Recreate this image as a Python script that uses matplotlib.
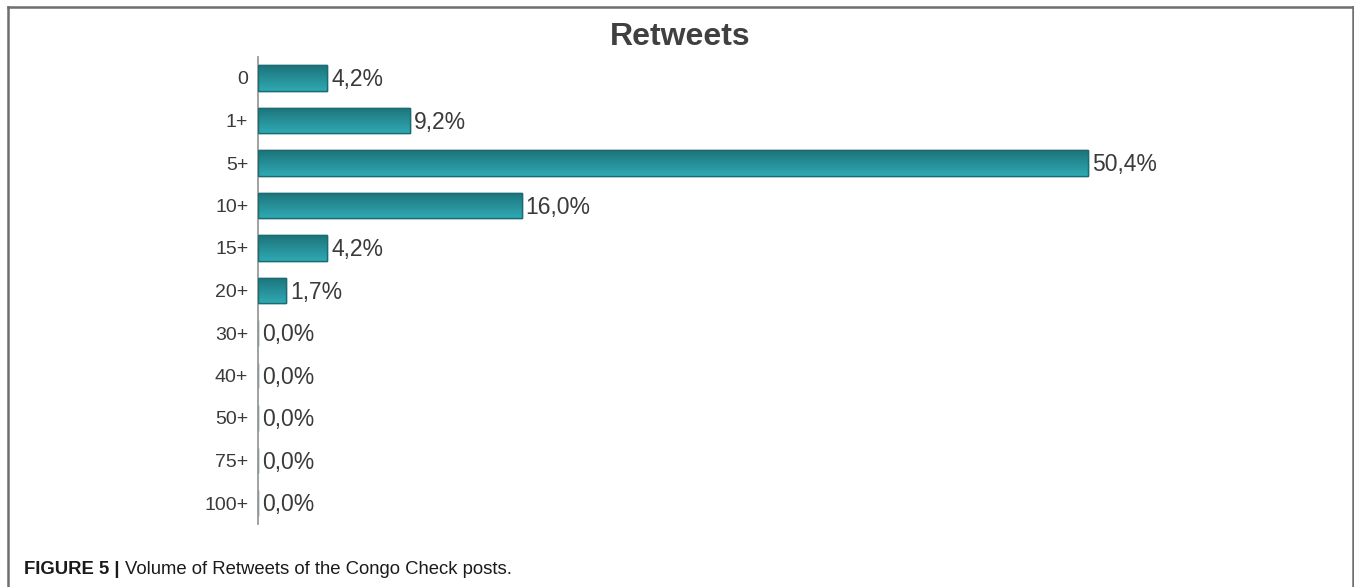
import numpy as np
import matplotlib
matplotlib.use("Agg")
import matplotlib.pyplot as plt
from matplotlib.colors import LinearSegmentedColormap
from matplotlib.lines import Line2D

# retweet buckets and share of posts (%)
categories = ["0", "1+", "5+", "10+", "15+", "20+", "30+", "40+", "50+", "75+", "100+"]
shares = [4.2, 9.2, 50.4, 16.0, 4.2, 1.7, 0.0, 0.0, 0.0, 0.0, 0.0]

plt.rcParams["font.family"] = ["Liberation Sans", "DejaVu Sans"]

W, H = 1354, 587
fig = plt.figure(figsize=(W / 100, H / 100), dpi=100)

# axes placed in pixel terms
left, right = 258, 1258
top, bottom = 56.75, 524.25
ax = fig.add_axes([left / W, 1 - bottom / H, (right - left) / W, (bottom - top) / H])
ax.set_xlim(0, (right - left) / 16.47)
ax.set_ylim(len(categories) - 0.5, -0.5)

# dark at the top edge, lighter towards the bottom
grad = LinearSegmentedColormap.from_list("teal", ["#2fa9b3", "#1d737a"])
ramp = np.linspace(0, 1, 64).reshape(-1, 1)

ypos = np.arange(len(categories))
bars = ax.barh(ypos, shares, height=0.59, color="#268e97",
               edgecolor="#1b6c72", linewidth=1.0, zorder=2)
for b in bars:
    if b.get_width() <= 0:
        continue
    x0, y0 = b.get_x(), b.get_y()
    w, h = b.get_width(), b.get_height()
    im = ax.imshow(ramp, cmap=grad, aspect="auto", origin="lower",
                   extent=[x0, x0 + w, y0 + h, y0], zorder=3)
    im.set_clip_path(b)
    ax.add_patch(plt.Rectangle((x0, y0), w, h, fill=False,
                               edgecolor="#1b6c72", linewidth=1.0, zorder=4))

for y, v in zip(ypos, shares):
    ax.text(v + 0.25, y + 0.04, f"{v:.1f}%".replace(".", ","), va="center", ha="left",
            fontsize=16.5, color="#3a3a3a", zorder=5)

ax.set_yticks(ypos)
ax.set_yticklabels(categories, fontsize=14, color="#3a3a3a")
ax.tick_params(axis="y", length=0, pad=7)
ax.set_xticks([])
for side in ["top", "right", "bottom"]:
    ax.spines[side].set_visible(False)
ax.spines["left"].set_color("#9a9a9a")
ax.spines["left"].set_linewidth(1.3)

fig.text(680 / W, 1 - 37 / H, "Retweets", ha="center", va="center",
         fontsize=23, fontweight="bold", color="#404040")

# caption
cap_y = 1 - 570 / H
t = fig.text(24 / W, cap_y, "FIGURE 5 |", ha="left", va="center",
             fontsize=13.3, fontweight="bold", color="#1a1a1a")
fig.canvas.draw()
bb = t.get_window_extent()
fig.text((bb.x1 + 5) / W, cap_y, "Volume of Retweets of the Congo Check posts.",
         ha="left", va="center", fontsize=13.3, color="#1a1a1a")

# outer frame (left, top, right)
fx0, fx1, fy = 8 / W, 1352.5 / W, 1 - 6.5 / H
frame_kw = dict(color="#6e6e6e", linewidth=1.8, transform=fig.transFigure)
fig.add_artist(Line2D([fx0, fx0], [0, fy], **frame_kw))
fig.add_artist(Line2D([fx0, fx1], [fy, fy], **frame_kw))
fig.add_artist(Line2D([fx1, fx1], [0, fy], **frame_kw))

fig.savefig("out.png", dpi=100)
